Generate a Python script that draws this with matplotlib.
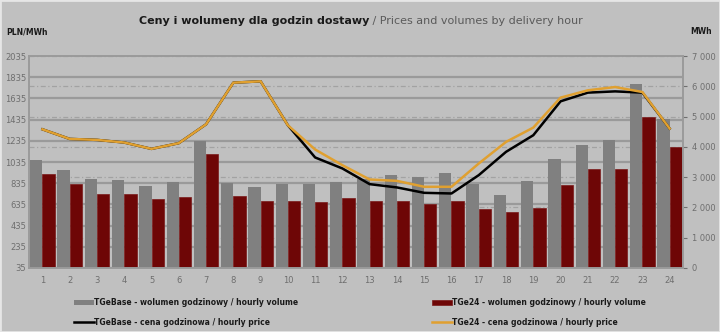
import matplotlib
matplotlib.use("Agg")
import matplotlib.pyplot as plt
import numpy as np

# godziny dostawy
hours = list(range(1, 25))

# wolumeny [MWh] - prawa oś
vol_base = [3560, 3220, 2945, 2920, 2715, 2835, 4200, 2815, 2670, 2780, 2780, 2835,
            2955, 3065, 3010, 3130, 2780, 2405, 2870, 3585, 4055, 4240, 6090, 4925]
vol_24 = [3120, 2760, 2450, 2440, 2285, 2360, 3760, 2375, 2210, 2220, 2190, 2300,
          2220, 2210, 2120, 2200, 1955, 1845, 1980, 2725, 3255, 3285, 5000, 3980]

# ceny [PLN/MWh] - lewa oś
price_base = [1344, 1253, 1244, 1219, 1159, 1213, 1391, 1784, 1797, 1382, 1078, 974,
              826, 795, 744, 738, 911, 1131, 1288, 1608, 1690, 1702, 1690, 1351]
price_24 = [1344, 1253, 1244, 1219, 1159, 1213, 1391, 1784, 1797, 1382, 1153, 1005,
            870, 857, 801, 801, 1021, 1225, 1360, 1643, 1712, 1743, 1696, 1351]

left_ticks = list(range(35, 2036, 200))
right_ticks = list(range(0, 7001, 1000))

labels = ["TGeBase - wolumen godzinowy / hourly volume",
          "TGe24 - wolumen godzinowy / hourly volume",
          "TGeBase - cena godzinowa / hourly price",
          "TGe24 - cena godzinowa / hourly price"]

bg = "#c0c0c0"
tick_col = "#6e6e6e"

fig = plt.figure(figsize=(7.2, 3.32), dpi=100, facecolor=bg)
ax = fig.add_axes([0.040, 0.193, 0.909, 0.638])
ax.set_facecolor(bg)
ax2 = ax.twinx()

ax.set_xlim(0.5, 24.5)
ax.set_ylim(35, 2035)
ax2.set_ylim(0, 7000)

# siatka (pod słupkami)
for t in left_ticks[:-1]:
    ax2.plot([0, 1], [t, t], transform=ax.get_yaxis_transform(), color="#9a9a9a",
             lw=1.6, zorder=0)
for t in right_ticks[1:]:
    ax2.axhline(t, color="#a2a2a2", lw=0.9, ls=(0, (4, 2, 1, 2)), zorder=0)

x = np.array(hours)
w = 0.45
b1 = ax2.bar(x - w / 2, vol_base, width=w, color="#808080", zorder=2)
b2 = ax2.bar(x + w / 2, vol_24, width=w, color="#6e0606", edgecolor="#7a1a1a", lw=0.5,
             zorder=2)

ax.set_zorder(ax2.get_zorder() + 1)
ax.patch.set_visible(False)
l1, = ax.plot(x, price_base, color="black", lw=1.8, zorder=3)
l2, = ax.plot(x, price_24, color="#e0a030", lw=1.8, zorder=4)

ax.set_xticks(hours)
ax.set_yticks(left_ticks)
ax2.set_yticks(right_ticks)
ax2.set_yticklabels([f"{t:,}".replace(",", " ") for t in right_ticks])

ax.tick_params(axis="x", length=0, labelsize=6, colors=tick_col, pad=6)
ax.tick_params(axis="y", length=0, labelsize=6, colors=tick_col, pad=2)
ax2.tick_params(axis="y", length=3, labelsize=6, colors=tick_col, pad=3)

for a in (ax, ax2):
    for s in a.spines.values():
        s.set_color("#9a9a9a")
        s.set_linewidth(1.2)
    a.spines["top"].set_linestyle((0, (3, 1)))

# tytuł
fig.text(0.5125, 0.937, "Ceny i wolumeny dla godzin dostawy", ha="right", va="center",
         fontsize=8.0, fontweight="bold", color="#1a1a1a")
fig.text(0.5125, 0.937, " / Prices and volumes by delivery hour", ha="left", va="center",
         fontsize=8.0, color="#5a5a5a")
fig.text(0.008, 0.905, "PLN/MWh", fontsize=5.5, fontweight="bold", color="#1a1a1a", va="center")
fig.text(0.958, 0.905, "MWh", fontsize=5.5, fontweight="bold", color="#1a1a1a", va="center")

# legenda: kolejność kolumnami
handles = [b1[0], l1, b2[0], l2]
leg_labels = [labels[0], labels[2], labels[1], labels[3]]
leg = fig.legend(handles, leg_labels, ncol=2, loc="lower left", bbox_to_anchor=(0.093, -0.005),
                 frameon=False, fontsize=5.5, handlelength=2.6, handletextpad=0.05,
                 columnspacing=17.5, labelspacing=1.35)
for t in leg.get_texts():
    t.set_fontweight("bold")
    t.set_color("#1a1a1a")

fig.patches.append(plt.Rectangle((0, 0), 1, 1, transform=fig.transFigure, fill=False,
                                 edgecolor="#e6e6e6", lw=2))

fig.savefig("out.png", dpi=100, facecolor=bg)
